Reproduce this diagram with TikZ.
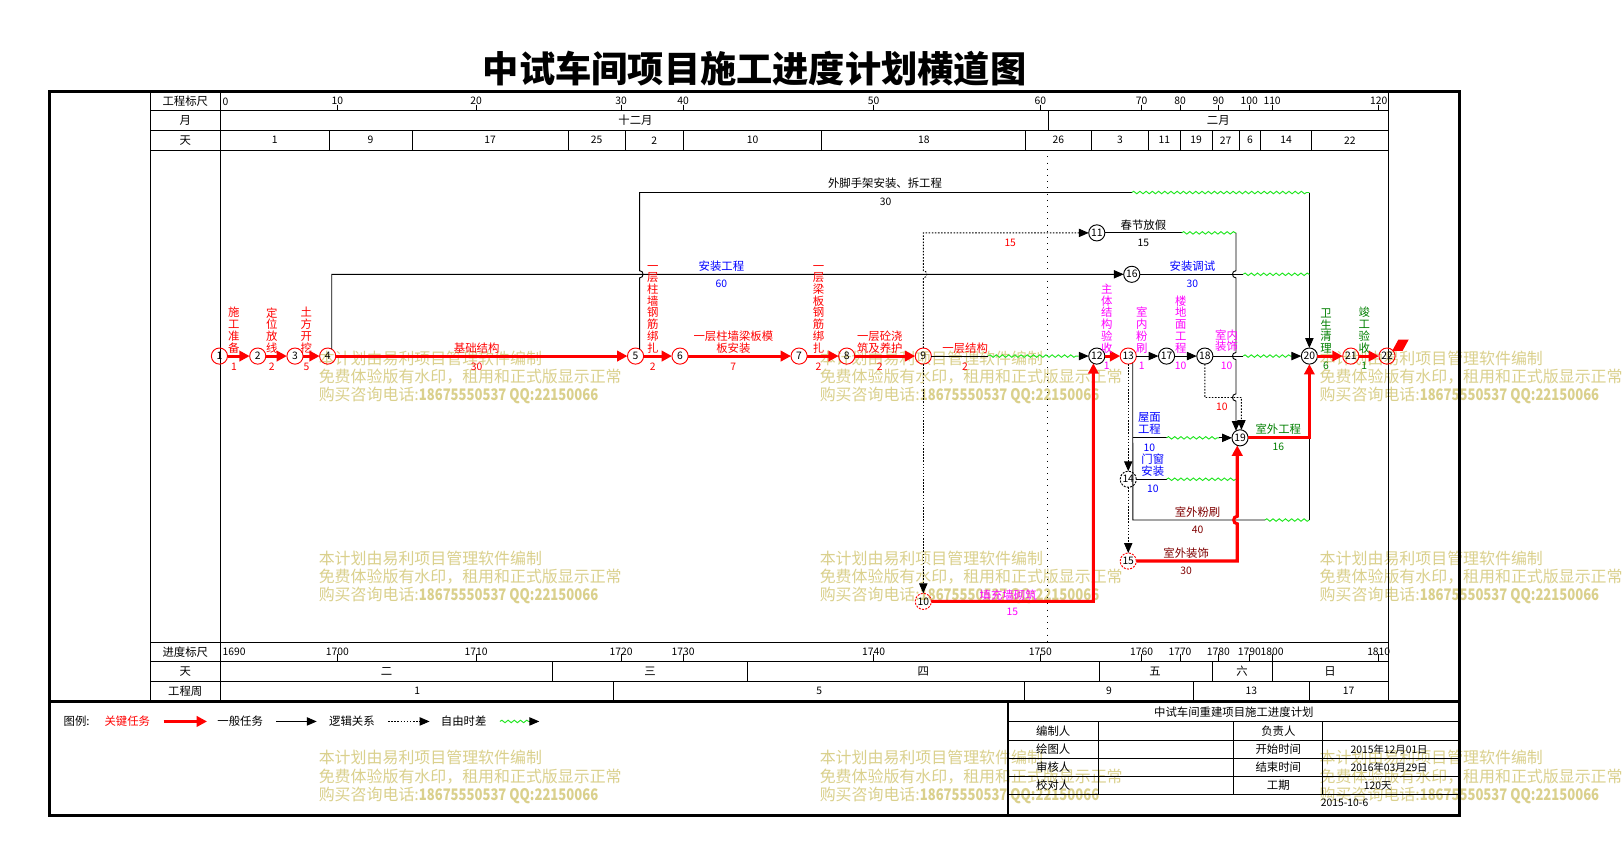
\documentclass[tikz,border=0pt]{standalone}
\usepackage{fontspec}
\usepackage{graphicx}
\setmainfont{Noto Sans CJK SC}
\usetikzlibrary{arrows.meta,decorations.pathmorphing}
\definecolor{wmk}{RGB}{218,208,140}
\definecolor{dgreen}{RGB}{0,128,0}
\definecolor{maroon}{RGB}{128,0,0}
\definecolor{lgreen}{RGB}{30,230,30}
\definecolor{mag}{RGB}{255,0,255}
\definecolor{myblue}{RGB}{0,0,255}
\tikzset{
  every node/.style={inner sep=0pt,outer sep=0pt},
  critnode/.style={circle,draw=red,line width=0.9pt,minimum size=15.6pt,font=\fontsize{10}{10}\selectfont},
  gennode/.style={circle,draw=black,line width=0.9pt,minimum size=15.6pt,font=\fontsize{10}{10}\selectfont},
  dashnode/.style={dash pattern=on 2pt off 1.2pt},
  critline/.style={draw=red,line width=3pt,-{Triangle[length=10pt,width=10pt]}},
  critpath/.style={draw=red,line width=3pt},
  genline/.style={draw=black,line width=0.9pt},
  genarrow/.style={genline,-{Triangle[length=9.5pt,width=8pt]}},
  logline/.style={draw=black,line width=0.9pt,dash pattern=on 1.5pt off 1.5pt},
  logarrow/.style={logline,-{Triangle[length=9.5pt,width=8pt]}},
  wave/.style={draw=lgreen,line width=0.9pt,decorate,decoration={snake,segment length=6pt,amplitude=1.2pt}},
  lab/.style={font=\fontsize{11}{11.3}\selectfont,align=center},
  vlab/.style={lab,anchor=south},
  dur/.style={font=\fontsize{10}{10}\selectfont},
  hd/.style={font=\fontsize{11}{12}\selectfont},
  num/.style={font=\fontsize{10}{12}\selectfont},
  wmtext/.style={text=wmk,font=\fontsize{15.4}{17.5}\selectfont,align=left,anchor=north west},
}
\begin{document}
\begin{tikzpicture}[x=1pt,y=-1pt]
\useasboundingbox (0,0) rectangle (1568,835);
\fill[white] (0,0) rectangle (1568,835);

% watermarks
\foreach \wx/\wy/\wn in {308/339/a,792/339/b,1275/339/c,308/532/d,792/532/e,1275/532/f,308/725/g,792/725/h,1275/725/i}
  \node[wmtext] (wm\wn) at (\wx,\wy) {本计划由易利项目管理软件编制\\免费体验版有水印，租用和正式版显示正常\\购买咨询电话:\scalebox{0.82}[1]{\textbf{18675550537 QQ:22150066}}};

% title
\node[font=\fontsize{35}{35}\selectfont\bfseries] (title) at (729,66) {中试车间项目施工进度计划横道图};

% frame and grid
\draw[line width=3pt] (48,88) rectangle (1410,788);
\draw[line width=0.9pt] (145,88) -- (145,678) (213,88) -- (213,678) (1341,88) -- (1341,678);
\foreach \yy in {107,126,145,621,639,658} \draw[line width=0.9pt] (145,\yy) -- (1341,\yy);
\draw[line width=2.5pt] (48,678) -- (1410,678);
\draw[line width=0.9pt] (1013,107) -- (1013,126);
\foreach \xx in {318,398,549,604,660,794,991,1054,1110,1140,1171,1197,1218,1267} \draw[line width=0.9pt] (\xx,126) -- (\xx,145);
\foreach \xx in {326,460,600,660,844,1005,1103,1140,1177,1207,1229,1332} {
  \draw[line width=0.9pt] (\xx,101) -- (\xx,107);
  \draw[line width=0.9pt] (\xx,632) -- (\xx,639);
}
\foreach \xx in {534,722,1062,1171,1229} \draw[line width=0.9pt] (\xx,639) -- (\xx,658);
\foreach \xx in {593,990,1153,1265} \draw[line width=0.9pt] (\xx,658) -- (\xx,678);
\draw[line width=0.9pt,dash pattern=on 1pt off 5pt] (1012,145) -- (1012,621);

% header labels
\node[hd] (h1) at (179,98) {工程标尺};
\node[hd] (h2) at (179,116.5) {月};
\node[hd] (h3) at (179,135.5) {天};
\node[hd] (h4) at (179,630) {进度标尺};
\node[hd] (h5) at (179,648.5) {天};
\node[hd] (h6) at (179,668) {工程周};
\node[num,anchor=west] (tk0) at (215,98) {0};
\foreach \x/\t [count=\i] in {326/10,460/20,600/30,660/40,844/50,1005/60,1103/70,1140/80,1177/90,1207/100,1229/110,1332/120}
  \node[num] (tk\i) at (\x,97.5) {\t};
\node[hd] (mo1) at (614,116.5) {十二月};
\node[hd] (mo2) at (1177,116.5) {二月};
\foreach \x/\t [count=\i] in {265.5/1,358/9,473.5/17,576.5/25,632/2,727/10,892.5/18,1022.5/26,1082/3,1125/11,1155.5/19,1184/27,1207.5/6,1242.5/14,1304/22}
  \node[num] (dy\i) at (\x,135.5) {\t};
\node[num,anchor=west] (pg0) at (215,630) {1690};
\foreach \x/\t [count=\i] in {326/1700,460/1710,600/1720,660/1730,844/1740,1005/1750,1103/1760,1140/1770,1177/1780,1207/1790,1229/1800,1332/1810}
  \node[num] (pg\i) at (\x,629.5) {\t};
\foreach \x/\t [count=\i] in {373.5/二,628/三,892/四,1116/五,1200/六,1285/日}
  \node[hd] (wd\i) at (\x,648.5) {\t};
\foreach \x/\t [count=\i] in {403/1,791.5/5,1071.5/9,1209/13,1303/17}
  \node[num] (wk\i) at (\x,667.5) {\t};

% legend
\node[hd] (lg0) at (74,697) {图例:};
\node[hd,text=red] (lg1) at (123,697) {关键任务};
\coordinate (la1) at (158,697); \coordinate (lb1) at (200,697);
\draw[critline] (la1) -- (lb1);
\node[hd] (lg2) at (232,697) {一般任务};
\coordinate (la2) at (267,697); \coordinate (lb2) at (306,697);
\draw[genarrow] (la2) -- (lb2);
\node[hd] (lg3) at (340,697) {逻辑关系};
\coordinate (la3) at (375,697); \coordinate (lb3) at (415,697);
\draw[logarrow] (la3) -- (lb3);
\node[hd] (lg4) at (448,697) {自由时差};
\coordinate (la4) at (483,697); \coordinate (lm4) at (511,697); \coordinate (lb4) at (521,697);
\draw[wave] (la4) -- (lm4);
\draw[genarrow] (lm4) -- (lb4);

% title block
\draw[line width=2.5pt] (974,678) -- (974,788);
\foreach \yy in {697,715,733,750,768} \draw[line width=0.9pt] (974,\yy) -- (1410,\yy);
\foreach \xx in {1061,1192,1278} \draw[line width=0.9pt] (\xx,697) -- (\xx,768);
\node[hd] (tb0) at (1192,688) {中试车间重建项目施工进度计划};
\node[hd] (tb1) at (1017.5,706) {编制人};
\node[hd] (tb2) at (1235,706) {负责人};
\node[hd] (tb3) at (1017.5,724) {绘图人};
\node[hd] (tb4) at (1235,724) {开始时间};
\node[num] (tb5) at (1342,724) {2015年12月01日};
\node[hd] (tb6) at (1017.5,741.5) {审核人};
\node[hd] (tb7) at (1235,741.5) {结束时间};
\node[num] (tb8) at (1342,741.5) {2016年03月29日};
\node[hd] (tb9) at (1017.5,759) {校对人};
\node[hd] (tb10) at (1235,759) {工期};
\node[num] (tb11) at (1331,759) {120天};
\node[num] (tb12) at (1299,775.5) {2015-10-6};

% nodes
\node[critnode] (n1) at (212,344) {1};
\node[critnode] (n2) at (249,344) {2};
\node[critnode] (n3) at (285,344) {3};
\node[critnode] (n4) at (316.6,344) {4};
\node[critnode] (n5) at (614,344) {5};
\node[critnode] (n6) at (657,344) {6};
\node[critnode] (n7) at (772,344) {7};
\node[critnode] (n8) at (818,344) {8};
\node[critnode] (n9) at (892,344) {9};
\node[critnode,dashnode] (n10) at (892,581) {10};
\node[gennode] (n11) at (1059.6,225) {11};
\node[gennode] (n12) at (1059.6,344) {12};
\node[critnode] (n13) at (1090,344) {13};
\node[gennode,dashnode] (n14) at (1090,463) {14};
\node[critnode,dashnode] (n15) at (1090,542) {15};
\node[gennode] (n16) at (1093.4,265) {16};
\node[gennode] (n17) at (1127,344) {17};
\node[gennode] (n18) at (1164,344) {18};
\node[gennode] (n19) at (1198,423) {19};
\node[gennode] (n20) at (1265,344) {20};
\node[critnode] (n21) at (1305,344) {21};
\node[critnode] (n22) at (1340,344) {22};
\fill[red] (1345,339) -- (1351,328) -- (1361,328) -- (1355,339) -- cycle;

% coordinates
\coordinate (b4) at (320.5,265);
\coordinate (b5) at (617.9,186);
\coordinate (w5) at (1093.4,186);
\coordinate (t20) at (1265,186);
\coordinate (b9) at (892,225);
\coordinate (w9a) at (954.6,344);
\coordinate (w9b) at (1042,344);
\coordinate (b10) at (1056.3,581);
\coordinate (w11a) at (1141.7,225);
\coordinate (b11) at (1194.1,225);
\coordinate (w16a) at (1201,265);
\coordinate (e16) at (1265,265);
\coordinate (w18a) at (1201,344);
\coordinate (w18b) at (1248,344);
\coordinate (b18a) at (1164,384);
\coordinate (b18b) at (1199.35,384);
\coordinate (b13a) at (1094.4,423);
\coordinate (b13b) at (1094.4,502.4);
\coordinate (w13a) at (1127,423);
\coordinate (w13b) at (1178,423);
\coordinate (w13c) at (1222,502.4);
\coordinate (e13) at (1265,502.4);
\coordinate (j20) at (1265,423);
\coordinate (w14a) at (1127,463);
\coordinate (e14) at (1195.3,463);
\coordinate (b15) at (1195.3,542);

% general connectors
\draw[genarrow] (n4.60) -- (b4) -- (n16);
\draw[genline] (n5.60) -- (617.9,268.5) .. controls (622.4,268.5) and (622.4,261.5) .. (617.9,261.5) -- (b5) -- (w5);
\draw[wave] (w5) -- (t20);
\draw[genarrow] (t20) -- (n20);
\draw[logarrow] (n9) -- (892,268.5) .. controls (896.5,268.5) and (896.5,261.5) .. (892,261.5) -- (b9) -- (n11);
\draw[logarrow] (n9) -- (n10);
\draw[genline] (n9) -- (w9a);
\draw[wave] (w9a) -- (w9b);
\draw[genarrow] (w9b) -- (n12);
\draw[genline] (n11) -- (w11a);
\draw[wave] (w11a) -- (b11);
\draw[genarrow] (b11) -- (1194.1,261.5) .. controls (1189.6,261.5) and (1189.6,268.5) .. (1194.1,268.5)
  -- (1194.1,340.5) .. controls (1189.6,340.5) and (1189.6,347.5) .. (1194.1,347.5)
  -- (1194.1,380.5) .. controls (1189.6,380.5) and (1189.6,387.5) .. (1194.1,387.5) -- (n19.120);
\draw[genline] (n16) -- (w16a);
\draw[wave] (w16a) -- (e16);
\draw[genarrow] (n13) -- (n17);
\draw[genarrow] (n17) -- (n18);
\draw[genline] (n18) -- (w18a);
\draw[wave] (w18a) -- (w18b);
\draw[genarrow] (w18b) -- (n20);
\draw[logarrow] (n18) -- (b18a) -- (b18b) -- (n19.80);
\draw[genline] (n13.-56) -- (b13b) -- (w13c);
\draw[wave] (w13c) -- (e13);
\draw[genline] (e13) -- (j20);
\draw[genline] (b13a) -- (w13a);
\draw[wave] (w13a) -- (w13b);
\draw[genarrow] (w13b) -- (n19);
\draw[logarrow] (n13) -- (n14);
\draw[logarrow] (n14) -- (n15);
\draw[genline] (n14) -- (w14a);
\draw[wave] (w14a) -- (e14);

% critical connectors
\draw[critline] (n1) -- (n2);
\draw[critline] (n2) -- (n3);
\draw[critline] (n3) -- (n4);
\draw[critline] (n4) -- (n5);
\draw[critline] (n5) -- (n6);
\draw[critline] (n6) -- (n7);
\draw[critline] (n7) -- (n8);
\draw[critline] (n8) -- (n9);
\draw[critline] (n10) -- (b10) -- (n12.-115);
\draw[critline] (n12) -- (n13);
\draw[critline] (n15) -- (b15) -- (1195.3,506) .. controls (1190.8,506) and (1190.8,498.8) .. (1195.3,498.8) -- (n19.-110);
\draw[critline] (n19) -- (j20) -- (n20);
\draw[critline] (n20) -- (n21);
\draw[critline] (n21) -- (n22);

% task labels
\node[vlab,text=red] (t1) at (226,341) {施\\工\\准\\备};
\node[dur,text=red] (d1) at (226,354) {1};
\node[vlab,text=red] (t2) at (262.5,341) {定\\位\\放\\线};
\node[dur,text=red] (d2) at (262.5,354) {2};
\node[vlab,text=red] (t3) at (296,341) {土\\方\\开\\挖};
\node[dur,text=red] (d3) at (296,354) {5};
\node[lab,text=red] (t4) at (460.5,336.5) {基础结构};
\node[dur,text=red] (d4) at (460.5,354) {30};
\node[vlab,text=red] (t5) at (630.6,341) {一\\层\\柱\\墙\\钢\\筋\\绑\\扎};
\node[dur,text=red] (d5) at (630.6,354) {2};
\node[lab,text=red] (t6) at (708.5,330.5) {一层柱墙梁板模\\板安装};
\node[dur,text=red] (d6) at (708.5,354) {7};
\node[vlab,text=red] (t7) at (790.7,341) {一\\层\\梁\\板\\钢\\筋\\绑\\扎};
\node[dur,text=red] (d7) at (790.7,354) {2};
\node[lab,text=red] (t8) at (850,330.5) {一层砼浇\\筑及养护};
\node[dur,text=red] (d8) at (850,354) {2};
\node[lab,text=red] (t9) at (932.4,336.5) {一层结构};
\node[dur,text=red] (d9) at (932.4,354) {2};
\node[lab] (t10) at (855,177) {外脚手架安装、拆工程};
\node[dur] (d10) at (855.7,195) {30};
\node[dur,text=red] (d11) at (976,234.5) {15};
\node[lab] (t12) at (1104.7,217.4) {春节放假};
\node[dur] (d12) at (1104.7,234.5) {15};
\node[lab,text=myblue] (t13) at (697,257) {安装工程};
\node[dur,text=myblue] (d13) at (697,274.4) {60};
\node[lab,text=myblue] (t14) at (1152,257) {安装调试};
\node[dur,text=myblue] (d14) at (1152,274.4) {30};
\node[vlab,text=mag] (t15) at (1069.3,341) {主\\体\\结\\构\\验\\收};
\node[dur,text=mag] (d15) at (1069.3,353.5) {1};
\node[vlab,text=mag] (t16) at (1103,341) {室\\内\\粉\\刷};
\node[dur,text=mag] (d16) at (1103,353.5) {1};
\node[vlab,text=mag] (t17) at (1140.7,341) {楼\\地\\面\\工\\程};
\node[dur,text=mag] (d17) at (1140.7,353.5) {10};
\node[lab,text=mag] (t18) at (1185,329) {室内\\装饰};
\node[dur,text=mag] (d18) at (1185,353.5) {10};
\node[dur,text=red] (d19) at (1180.4,393.5) {10};
\node[vlab,text=dgreen] (t20) at (1281,341) {卫\\生\\清\\理};
\node[dur,text=dgreen] (d20) at (1281,353.5) {6};
\node[vlab,text=dgreen] (t21) at (1318,341) {竣\\工\\验\\收};
\node[dur,text=dgreen] (d21) at (1318,353.5) {1};
\node[lab,text=myblue] (t22) at (1110.5,409) {屋面\\工程};
\node[dur,text=myblue] (d22) at (1110.5,432.5) {10};
\node[lab,text=myblue] (t23) at (1113.7,449.3) {门窗\\安装};
\node[dur,text=myblue] (d23) at (1113.7,472.2) {10};
\node[lab,text=dgreen] (t24) at (1235,414.5) {室外工程};
\node[dur,text=dgreen] (d24) at (1235,432) {16};
\node[lab,text=maroon] (t25) at (1157,494.4) {室外粉刷};
\node[dur,text=maroon] (d25) at (1157,512) {40};
\node[lab,text=maroon] (t26) at (1146,534) {室外装饰};
\node[dur,text=maroon] (d26) at (1146,551.7) {30};
\node[lab,text=mag] (t27) at (974,575) {填充墙砌筑};
\node[dur,text=mag] (d27) at (978,591) {15};
\end{tikzpicture}
\end{document}
